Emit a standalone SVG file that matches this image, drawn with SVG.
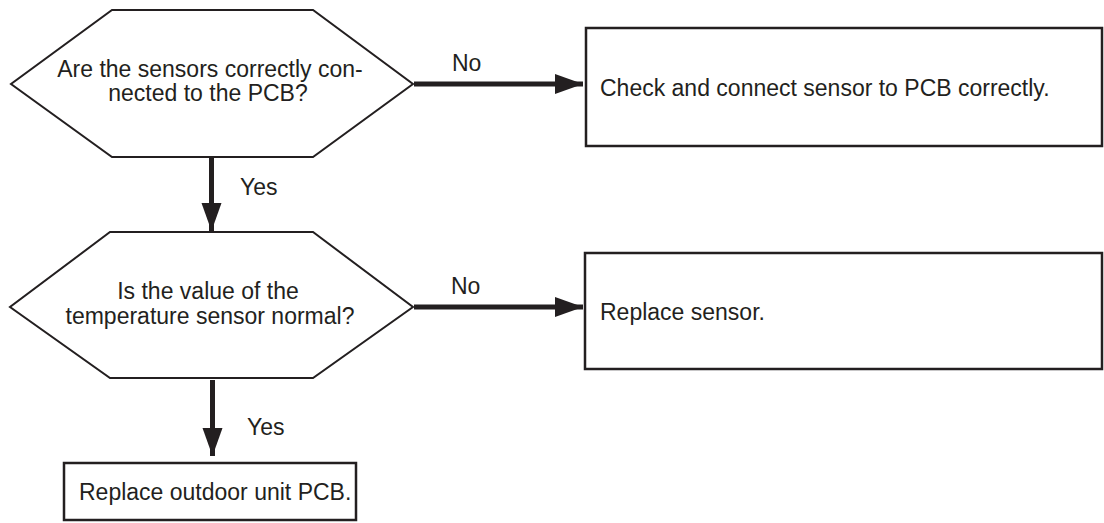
<svg xmlns="http://www.w3.org/2000/svg" width="1104" height="523" viewBox="0 0 1104 523">
<style>
.shape{fill:#fff;stroke:#231f20;stroke-width:2}
.box{fill:#fff;stroke:#231f20;stroke-width:2.5}
.t{font-family:"Liberation Sans",Arial,sans-serif;font-size:23px;fill:#231f20}
.c{text-anchor:middle}
.conn{stroke:#231f20;stroke-width:5;fill:none}
</style>
<defs>
<marker id="ah" markerUnits="userSpaceOnUse" markerWidth="30" markerHeight="22" refX="28" refY="11" orient="auto">
<path d="M0,1 L28,11 L0,21 Z" fill="#231f20"/>
</marker>
</defs>
<g id="connectors">
<line class="conn" x1="414" y1="84" x2="583" y2="84" marker-end="url(#ah)"/>
<line class="conn" x1="211.5" y1="158" x2="211.5" y2="231" marker-end="url(#ah)"/>
<line class="conn" x1="414" y1="307" x2="583" y2="307" marker-end="url(#ah)"/>
<line class="conn" x1="212.5" y1="380" x2="212.5" y2="456" marker-end="url(#ah)"/>
<text class="t" x="452" y="71">No</text>
<text class="t" x="240" y="195">Yes</text>
<text class="t" x="451" y="294">No</text>
<text class="t" x="247" y="435">Yes</text>
</g>
<g id="q1">
<polygon class="shape" points="112,10 313,10 413,84 313,157 112,157 11,84"/>
<text class="t c" x="210" y="77">Are the sensors correctly con-</text>
<text class="t c" x="208" y="101">nected to the PCB?</text>
</g>
<g id="a1">
<rect class="box" x="586" y="28" width="516" height="118"/>
<text class="t" x="600" y="96">Check and connect sensor to PCB correctly.</text>
</g>
<g id="q2">
<polygon class="shape" points="110,232 313,232 413,307 313,378 110,378 10,307"/>
<text class="t c" x="208" y="299">Is the value of the</text>
<text class="t c" x="210" y="324">temperature sensor normal?</text>
</g>
<g id="a2">
<rect class="box" x="585" y="253" width="517" height="116"/>
<text class="t" x="600" y="320">Replace sensor.</text>
</g>
<g id="a3">
<rect class="box" x="64" y="463" width="292" height="57"/>
<text class="t" x="79" y="500">Replace outdoor unit PCB.</text>
</g>
</svg>
